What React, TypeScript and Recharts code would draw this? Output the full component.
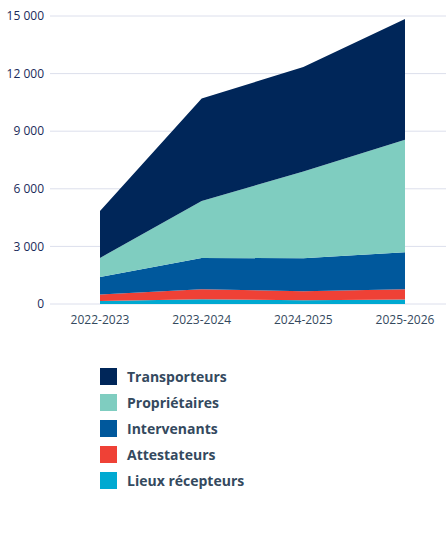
import { AreaChart, Area, XAxis, YAxis, CartesianGrid } from 'recharts';

const seasons = ['2022-2023', '2023-2024', '2024-2025', '2025-2026'];

const lieuxRecepteurs = [150, 250, 200, 230];
const attestateurs = [350, 520, 470, 540];
const intervenants = [900, 1630, 1710, 1930];
const proprietaires = [1000, 2970, 4520, 5850];
const transporteurs = [2450, 5330, 5450, 6300];

const yTicks = [0, 3000, 6000, 9000, 12000, 15000];

// stacking order bottom -> top
const series = [
  { key: 'lieux', label: 'Lieux récepteurs', color: '#00a9d1', values: lieuxRecepteurs },
  { key: 'attestateurs', label: 'Attestateurs', color: '#ef4136', values: attestateurs },
  { key: 'intervenants', label: 'Intervenants', color: '#00589c', values: intervenants },
  { key: 'proprietaires', label: 'Propriétaires', color: '#7fcdc0', values: proprietaires },
  { key: 'transporteurs', label: 'Transporteurs', color: '#002659', values: transporteurs },
];

const data = seasons.map((season, i) => {
  const row: Record<string, string | number> = { season };
  series.forEach((s) => {
    row[s.key] = s.values[i];
  });
  return row;
});

const formatThousands = (v: number) => String(v).replace(/\B(?=(\d{3})+(?!\d))/g, ' ');

const font = '"Open Sans", "Noto Sans", sans-serif';

export default function App() {
  return (
    <div style={{ position: 'absolute', left: 0, top: 0, width: 446, height: 548, fontFamily: font }}>
      <AreaChart width={446} height={340} data={data} margin={{ top: 16, right: 0, bottom: 0, left: 0 }}>
        <CartesianGrid vertical={false} stroke="#dcdfec" strokeWidth={1} />
        <XAxis
          dataKey="season"
          axisLine={false}
          tickLine={false}
          tickSize={6}
          tickMargin={5}
          height={36}
          padding={{ left: 50, right: 41 }}
          tick={{ fill: '#34495e', fontSize: 12, fontFamily: font }}
        />
        <YAxis
          domain={[0, 15000]}
          ticks={yTicks}
          axisLine={false}
          tickLine={false}
          tickSize={6}
          tickMargin={0}
          width={50}
          tickFormatter={formatThousands}
          tick={{ fill: '#1a2b5a', fontSize: 12, fontFamily: font }}
        />
        {series.map((s) => (
          <Area
            key={s.key}
            type="linear"
            dataKey={s.key}
            stackId="total"
            stroke="none"
            fill={s.color}
            fillOpacity={1}
            isAnimationActive={false}
            activeDot={false}
          />
        ))}
      </AreaChart>
      <div style={{ position: 'absolute', left: 100, top: 363 }}>
        {[...series].reverse().map((s) => (
          <div key={s.key} style={{ display: 'flex', alignItems: 'center', height: 26 }}>
            <span style={{ width: 17, height: 17, background: s.color, display: 'inline-block', marginRight: 10 }} />
            <span style={{ fontSize: 14, fontWeight: 700, color: '#34495e' }}>{s.label}</span>
          </div>
        ))}
      </div>
    </div>
  );
}
